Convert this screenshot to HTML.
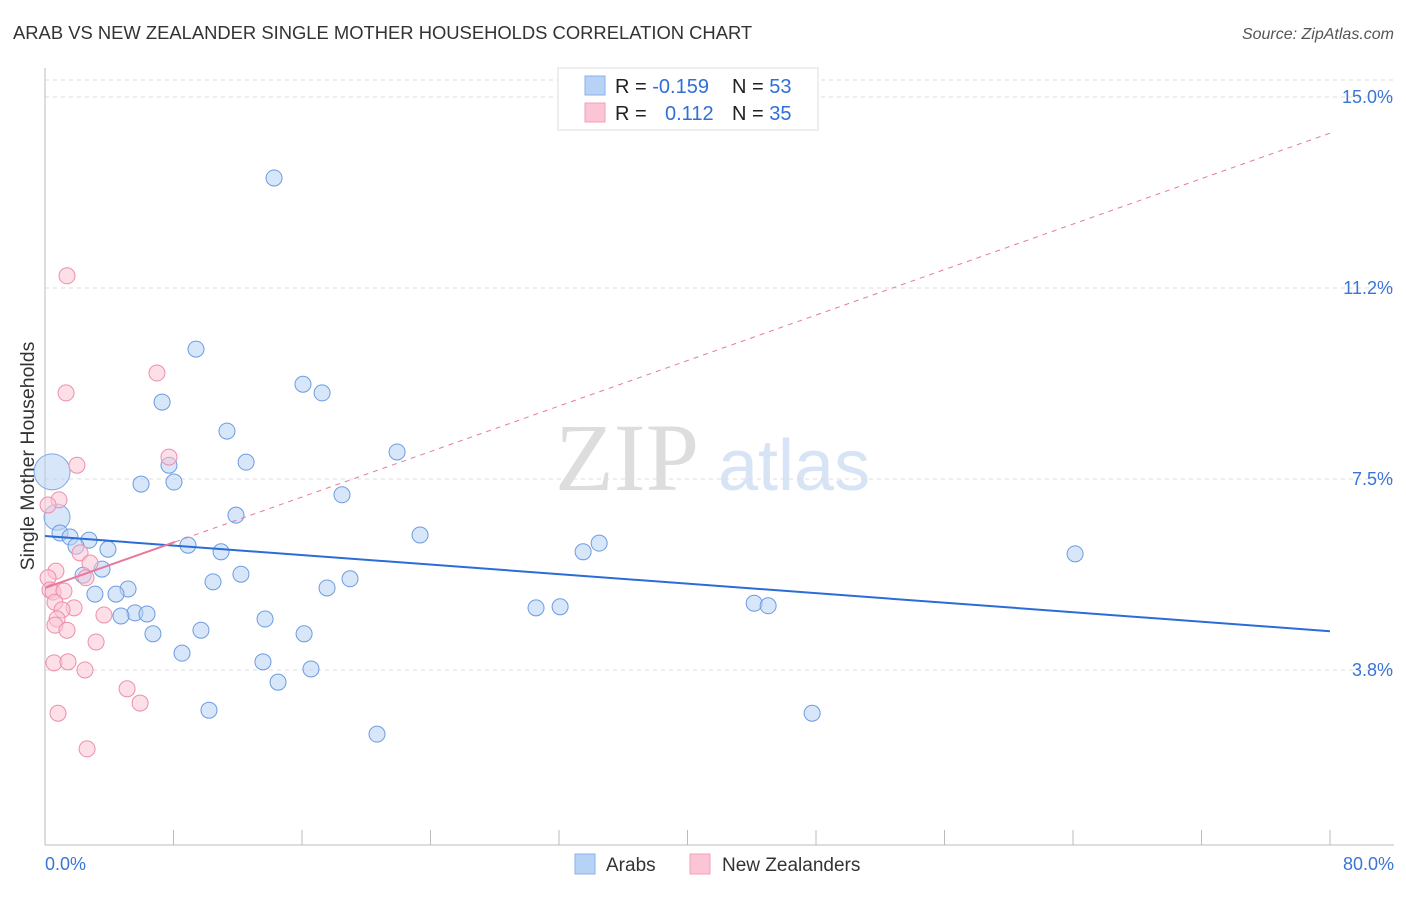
<!DOCTYPE html>
<html><head><meta charset="utf-8"><style>
body{margin:0;background:#fff;font-family:"Liberation Sans",sans-serif;}
svg text{font-family:"Liberation Sans",sans-serif;}
</style></head><body>
<svg id="chart" width="1406" height="892" xmlns="http://www.w3.org/2000/svg">
<text x="13" y="39" font-size="18.4" fill="#333">ARAB VS NEW ZEALANDER SINGLE MOTHER HOUSEHOLDS CORRELATION CHART</text>
<text x="1394" y="39" font-size="16" fill="#555" text-anchor="end" font-style="italic">Source: ZipAtlas.com</text>
<g>
<text x="555" y="490" font-size="96" fill="#ddd" style="font-family:'Liberation Serif',serif">ZIP</text>
<text x="718" y="490" font-size="72" fill="#d6e4f5">atlas</text>
</g>
<g id="grid"></g>
<g id="axes"></g>
<g id="marks"></g>
<text transform="translate(34,456) rotate(-90)" font-size="19.5" fill="#333" text-anchor="middle">Single Mother Households</text>
<g>
<rect x="558" y="68" width="260" height="62" fill="#fff" stroke="#ddd"/>
<rect x="585" y="76" width="20" height="19" fill="#b8d2f5" stroke="#8ab2e8"/>
<rect x="585" y="103" width="20" height="19" fill="#fcc5d5" stroke="#f0a0b8"/>
<text x="615" y="93" font-size="20" fill="#222">R = <tspan fill="#2f6fd6">-0.159</tspan></text>
<text x="732" y="93" font-size="20" fill="#222">N = <tspan fill="#2f6fd6">53</tspan></text>
<text x="615" y="120" font-size="20" fill="#222">R = <tspan fill="#2f6fd6" x="665">0.112</tspan></text>
<text x="732" y="120" font-size="20" fill="#222">N = <tspan fill="#2f6fd6">35</tspan></text>
</g>
<g>
<rect x="575" y="854" width="20" height="20" fill="#b8d2f5" stroke="#8ab2e8"/>
<text x="606" y="871" font-size="19" fill="#333">Arabs</text>
<rect x="690" y="854" width="20" height="20" fill="#fcc5d5" stroke="#f0a0b8"/>
<text x="722" y="871" font-size="19" fill="#333">New Zealanders</text>
</g>
</svg>
<script>
const yTicks=[3.75,7.5,11.25,15];
const yTickLabels=["3.8%","7.5%","11.2%","15.0%"];
const xTickLabels=["0.0%","80.0%"];
const arabX=[14.26,9.40,7.29,16.06,17.25,11.33,7.72,12.52,5.98,8.03,21.92,18.49,11.89,23.35,0.93,1.56,2.74,1.93,3.92,8.90,10.96,33.50,34.50,64.13,3.55,2.37,12.20,10.46,18.99,17.56,5.17,4.42,3.11,5.60,6.35,4.73,30.57,32.07,44.15,45.02,13.70,6.72,9.71,16.13,8.53,13.57,16.56,14.51,10.21,47.76,20.67];
const arabY=[13.41,10.05,9.01,9.36,9.19,8.44,7.77,7.83,7.40,7.44,8.03,7.19,6.79,6.40,6.44,6.36,6.30,6.18,6.12,6.20,6.07,6.07,6.24,6.03,5.73,5.61,5.63,5.48,5.54,5.36,5.34,5.24,5.24,4.87,4.85,4.81,4.97,4.99,5.06,5.01,4.75,4.46,4.53,4.46,4.08,3.91,3.77,3.51,2.96,2.90,2.49];
const arabBigX=[0.44,0.75];
const arabBigY=[7.64,6.75];
const nzX=[1.37,6.97,1.31,7.72,1.99,0.87,0.19,2.18,2.80,0.68,2.55,0.19,0.31,0.50,1.18,0.62,1.81,1.06,3.67,0.75,0.62,1.37,3.18,0.56,1.43,2.49,5.11,5.92,0.81,2.62];
const nzY=[11.49,9.58,9.19,7.93,7.77,7.09,6.99,6.05,5.85,5.69,5.56,5.56,5.32,5.28,5.30,5.08,4.97,4.93,4.83,4.75,4.63,4.53,4.30,3.89,3.91,3.75,3.38,3.10,2.90,2.20];
const arabTrend=[6.38,4.51];
const nzTrend=[5.36,14.29];
const nzSolidEnd=8.1;
const X0=45,X1=1330,Y15=97,PPY=50.93;
const sx=v=>X0+(X1-X0)*v/80;
const sy=v=>Y15+(15-v)*PPY;
const NS="http://www.w3.org/2000/svg";
function mk(tag,attrs,parent){const e=document.createElementNS(NS,tag);for(const k in attrs)e.setAttribute(k,attrs[k]);parent.appendChild(e);return e;}
const grid=document.getElementById('grid'),axes=document.getElementById('axes'),marks=document.getElementById('marks');
let g=mk('line',{x1:X0,x2:1394,y1:80,y2:80,stroke:'#ddd','stroke-dasharray':'4,4'},grid);


yTicks.forEach((t,i)=>{
 const l=mk('line',{x1:X0,x2:1394,y1:sy(t),y2:sy(t),stroke:'#ddd','stroke-dasharray':'4,4'},grid);
 
 
 const tx=mk('text',{x:1393,y:sy(t)+6,'font-size':18,fill:'#3a75d6','text-anchor':'end'},axes);
 tx.textContent=yTickLabels[i];
 
 
});
let ax=mk('line',{x1:X0,x2:X0,y1:68,y2:845,stroke:'#bbb'},axes);


let bx=mk('line',{x1:X0,x2:1394,y1:845,y2:845,stroke:'#bbb'},axes);


for(let i=0;i<=10;i++){
 const t=mk('line',{x1:sx(i*8),x2:sx(i*8),y1:830,y2:845,stroke:'#bbb'},axes);
 
 
}
[[0,'start',45],[80,'end',1394]].forEach((d,i)=>{
 const t=mk('text',{x:d[2],y:870,'font-size':18,fill:'#3a75d6','text-anchor':d[1]},axes);
 t.textContent=xTickLabels[i];
 
 
});
function dot(x,y,r,fill,stroke,name){
 const c=mk('circle',{cx:sx(x),cy:sy(y),r:r,fill:fill,'fill-opacity':0.55,stroke:stroke,'stroke-width':1},marks);
 
 
}
arabBigX.forEach((x,i)=>dot(x,arabBigY[i],i==0?18:13,'#b8d2f5','#7ea8e6','arab-point'));
arabX.forEach((x,i)=>dot(x,arabY[i],8,'#b8d2f5','#6c9ce0','arab-point'));
nzX.forEach((x,i)=>dot(x,nzY[i],8,'#fcc5d5','#ec8fac','nz-point'));
let l1=mk('line',{x1:sx(0),y1:sy(arabTrend[0]),x2:sx(80),y2:sy(arabTrend[1]),stroke:'#2a6dd6','stroke-width':2},marks);


const nzAt=v=>nzTrend[0]+(nzTrend[1]-nzTrend[0])*v/80;
let l2=mk('line',{x1:sx(nzSolidEnd),y1:sy(nzAt(nzSolidEnd)),x2:sx(80),y2:sy(nzTrend[1]),stroke:'#e8799c','stroke-width':1,'stroke-dasharray':'5,5'},marks);


let l3=mk('line',{x1:sx(0),y1:sy(nzTrend[0]),x2:sx(nzSolidEnd),y2:sy(nzAt(nzSolidEnd)),stroke:'#e8799c','stroke-width':2},marks);


</script>
</body></html>
